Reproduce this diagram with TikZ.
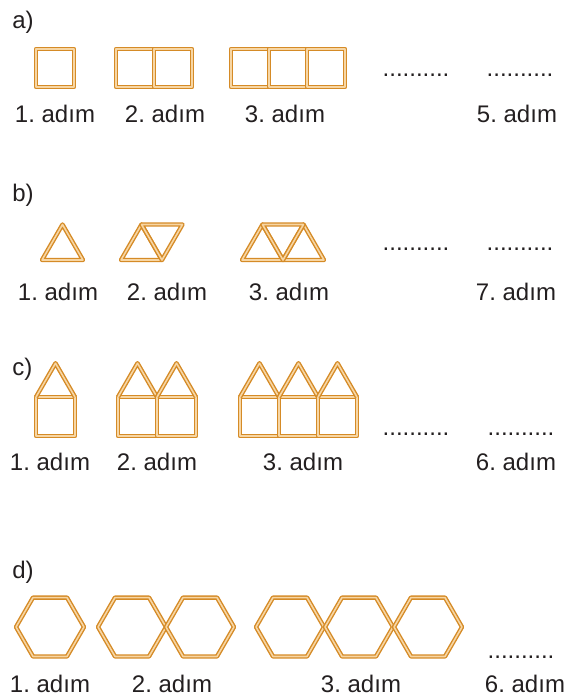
\documentclass[tikz,border=0pt]{standalone}
\usepackage{fontspec}
\setmainfont{Liberation Sans}
\usetikzlibrary{calc}
\frenchspacing
\definecolor{matchOrange}{HTML}{D58B27}
\definecolor{matchLight}{HTML}{F7D6A4}
\definecolor{inkGray}{HTML}{231F20}
\tikzset{
  stick/.style={draw=matchOrange, line width=0.7pt, double=matchLight,
                double distance=0.8pt, line join=round},
  steplbl/.style={anchor=base, inner sep=0pt, text=inkGray,
                  font=\fontsize{12}{14}\selectfont},
  partlbl/.style={steplbl, anchor=base west},
}

\begin{document}
\begin{tikzpicture}[x=0.5pt, y=-0.5pt]
    \useasboundingbox (0,0) rectangle (564,697);
    % a) cuadrados
    \node[partlbl] (pa) at (12,28) {a)};
    \foreach \x in {36, 116,154, 231,269,307} {
      \draw[stick] (\x,49) rectangle ++(38,38);
    }
    \node[steplbl] (blankA1) at (416,76) {..........};
    \node[steplbl] (blankA2) at (520,76) {..........};
    \foreach \x/\n in {55/1,165/2,285/3,517/5} {
      \node[steplbl] (la\n) at (\x,122) {\n. adım};
    }
    % b) triangulos
    \node[partlbl] (pb) at (12,201) {b)};
    \foreach \x in {42, 121, 242,283} {
      \draw[stick] (\x,260) -- ++(41,0) -- ++(-20.5,-35.5) -- cycle;
    }
    \foreach \x in {141.5, 262.5} {
      \draw[stick] (\x,224.5) -- ++(41,0) -- ++(-20.5,35.5) -- cycle;
    }
    \node[steplbl] (blankB1) at (416,250) {..........};
    \node[steplbl] (blankB2) at (520,250) {..........};
    \foreach \x/\n in {58/1,167/2,289/3,516/7} {
      \node[steplbl] (lb\n) at (\x,300) {\n. adım};
    }
    % c) casitas
    \node[partlbl] (pc) at (12,375) {c)};
    \foreach \x in {36, 118,157, 240,279,318} {
      \draw[stick] (\x,397) rectangle ++(39,39);
      \draw[stick] (\x,397) -- ++(19.5,-33.8) -- ++(19.5,33.8);
    }
    \node[steplbl] (blankC1) at (416,435) {..........};
    \node[steplbl] (blankC2) at (521,435) {..........};
    \foreach \x/\n in {50/1,157/2,303/3,516/6} {
      \node[steplbl] (lc\n) at (\x,470) {\n. adım};
    }
    % d) hexagonos
    \node[partlbl] (pd) at (12,578) {d)};
    \foreach \x in {50, 132,200, 290,359,428} {
      \draw[stick] (\x,627) +(0:34) -- +(60:34) -- +(120:34) -- +(180:34)
        -- +(240:34) -- +(300:34) -- cycle;
    }
    \node[steplbl] (blankD1) at (521,658) {..........};
    \foreach \x/\n in {50/1,172/2,361/3,525/6} {
      \node[steplbl] (ld\n) at (\x,692) {\n. adım};
    }
\end{tikzpicture}
\end{document}
